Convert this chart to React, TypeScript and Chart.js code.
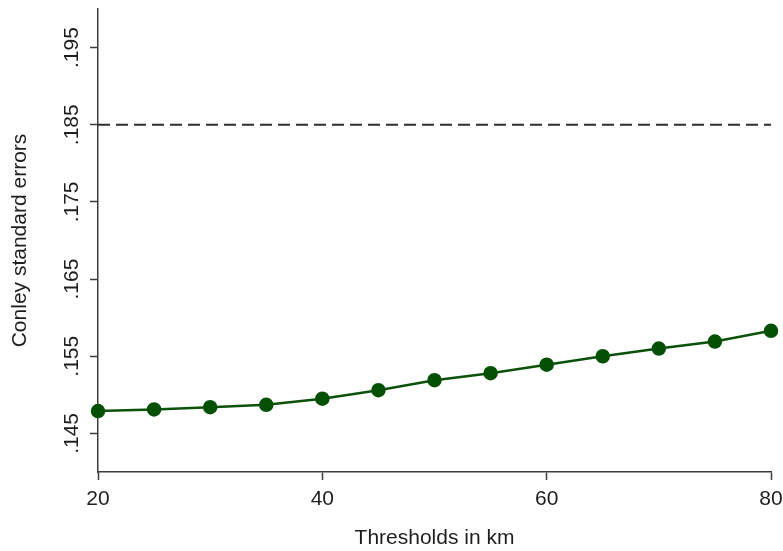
import React, { useEffect, useRef } from "react";
import { Chart, registerables } from "chart.js";

Chart.register(...registerables);

const thresholds = [20, 25, 30, 35, 40, 45, 50, 55, 60, 65, 70, 75, 80];
const conleySE = [0.1479, 0.1481, 0.1484, 0.1487, 0.1495, 0.1506, 0.1519, 0.1528, 0.1539, 0.155, 0.156, 0.1569, 0.1583];
const referenceSE = 0.185;
const yTicks = [0.145, 0.155, 0.165, 0.175, 0.185, 0.195];
const yTickLabels = [".145", ".155", ".165", ".175", ".185", ".195"];
const xTicks = [20, 40, 60, 80];

const FONT = "'Liberation Sans', Arial, sans-serif";
const AXIS_COLOR = "#3c3c3c";
const TEXT_COLOR = "#1e1e1e";

const yLabelPlugin = {
  id: "yRotLabels",
  afterDraw(chart: any) {
    const scale = chart.scales.y;
    const ctx = chart.ctx;
    ctx.save();
    ctx.font = `21px ${FONT}`;
    ctx.fillStyle = TEXT_COLOR;
    ctx.textAlign = "center";
    ctx.textBaseline = "middle";
    yTicks.forEach((v, i) => {
      const y = scale.getPixelForValue(v);
      ctx.save();
      ctx.translate(scale.right - 26, y);
      ctx.rotate(-Math.PI / 2);
      ctx.fillText(yTickLabels[i], 0, 0);
      ctx.restore();
    });
    ctx.restore();
  },
};

export default function App() {
  const ref = useRef<HTMLCanvasElement>(null);
  useEffect(() => {
    document.body.style.margin = "0";
    const chart = new Chart(ref.current!, {
      type: "line",
      data: {
        datasets: [
          {
            data: thresholds.map((x) => ({ x, y: referenceSE })),
            borderColor: "#2e2e2e",
            borderWidth: 2,
            borderDash: [12, 6],
            pointRadius: 0,
            fill: false,
          },
          {
            data: thresholds.map((x, i) => ({ x, y: conleySE[i] })),
            borderColor: "#0a520a",
            backgroundColor: "#045004",
            pointBackgroundColor: "#045004",
            pointBorderColor: "#045004",
            borderWidth: 2.5,
            pointRadius: 6,
            tension: 0,
            fill: false,
            clip: false as any,
          },
        ],
      },
      options: {
        animation: false,
        responsive: false,
        layout: { padding: { top: 9, right: 12, left: 0, bottom: 0 } },
        plugins: { legend: { display: false }, tooltip: { enabled: false } },
        scales: {
          x: {
            type: "linear",
            min: 20,
            max: 80,
            afterBuildTicks: (s: any) => {
              s.ticks = xTicks.map((v) => ({ value: v }));
            },
            afterFit: (s: any) => {
              s.height = 79;
              s.paddingRight = 0;
              s.paddingLeft = 0;
            },
            grid: { drawOnChartArea: false, drawTicks: true, tickLength: 8, tickColor: AXIS_COLOR, tickWidth: 1.5 },
            border: { color: AXIS_COLOR, width: 1.5 },
            ticks: { font: { size: 21, family: FONT }, color: TEXT_COLOR, padding: 7, maxRotation: 0 },
            title: {
              display: true,
              text: "Thresholds in km",
              font: { size: 21, family: FONT },
              color: TEXT_COLOR,
              padding: { top: 0, bottom: 0 },
            },
          },
          y: {
            type: "linear",
            min: 0.14,
            max: 0.2,
            afterBuildTicks: (s: any) => {
              s.ticks = yTicks.map((v) => ({ value: v }));
            },
            afterFit: (s: any) => {
              s.width = 98;
              s.paddingTop = 0;
              s.paddingBottom = 0;
            },
            grid: { drawOnChartArea: false, drawTicks: true, tickLength: 8, tickColor: AXIS_COLOR, tickWidth: 1.5 },
            border: { color: AXIS_COLOR, width: 1.5 },
            ticks: { display: false },
            title: {
              display: true,
              text: "Conley standard errors",
              font: { size: 21, family: FONT },
              color: TEXT_COLOR,
              padding: { top: 8, bottom: 0 },
            },
          },
        },
      },
      plugins: [yLabelPlugin],
    });
    return () => chart.destroy();
  }, []);
  return (
    <div style={{ position: "absolute", left: 0, top: 0, width: 783, height: 551, background: "#fff" }}>
      <canvas ref={ref} width={783} height={551} />
    </div>
  );
}
